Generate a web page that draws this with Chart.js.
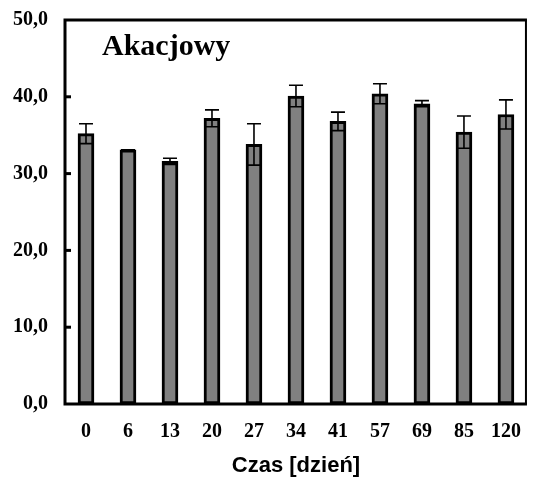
<!DOCTYPE html>
<html>
<head>
<meta charset="utf-8">
<script src="https://cdn.jsdelivr.net/npm/chart.js"></script>
<style>
body{margin:0;background:#fff}
</style>
</head>
<body>
<canvas id="myChart" width="537" height="484"></canvas>
<script>
// dane
var dni = ['0','6','13','20','27','34','41','57','69','85','120'];
var srednia = [35.2,33.1,31.6,37.2,33.8,40.1,36.8,40.4,39.1,35.4,37.7];
var odchylenie = [1.3,0,0.4,1.1,2.7,1.4,1.2,1.3,0.4,2.1,1.9];
var tytul = 'Akacjowy';

var errorBars = {
	id: 'errorBars',
	afterDatasetsDraw: function(chart) {
		var ctx = chart.ctx;
		var y = chart.scales.y;
		var meta = chart.getDatasetMeta(0);
		ctx.save();
		ctx.strokeStyle = '#000';
		ctx.lineWidth = 1.6;
		for (var i = 0; i < meta.data.length; i++) {
			var x = meta.data[i].x;
			var top = y.getPixelForValue(srednia[i] + odchylenie[i]);
			var bot = y.getPixelForValue(srednia[i] - odchylenie[i]);
			ctx.beginPath();
			ctx.moveTo(x, top); ctx.lineTo(x, bot);
			ctx.moveTo(x - 7, top); ctx.lineTo(x + 7, top);
			ctx.moveTo(x - 7, bot); ctx.lineTo(x + 7, bot);
			ctx.stroke();
		}
		// ramka
		var a = chart.chartArea;
		ctx.lineWidth = 3;
		ctx.beginPath();
		ctx.moveTo(a.right, a.top); ctx.lineTo(a.left, a.top);
		ctx.lineTo(a.left, a.bottom); ctx.lineTo(a.right, a.bottom);
		ctx.stroke();
		ctx.lineWidth = 2;
		ctx.beginPath();
		ctx.moveTo(a.right - 1, a.top); ctx.lineTo(a.right - 1, a.bottom);
		ctx.stroke();
		// kreski podziałki do środka
		ctx.lineWidth = 3;
		[10, 20, 30, 40].forEach(function(v) {
			var py = y.getPixelForValue(v);
			ctx.beginPath();
			ctx.moveTo(a.left, py); ctx.lineTo(a.left + 6, py);
			ctx.stroke();
		});
		// tytuł
		ctx.fillStyle = '#000';
		ctx.font = 'bold 30px "Liberation Serif"';
		ctx.textAlign = 'left';
		ctx.textBaseline = 'alphabetic';
		ctx.fillText(tytul, 102, 55);
		ctx.restore();
	}
};

var ctx = document.getElementById('myChart');
var chart = new Chart(ctx, {
	type: 'bar',
	data: {
		labels: dni,
		datasets: [{
			data: srednia,
			backgroundColor: '#808080',
			borderColor: '#000',
			borderWidth: 3,
			borderSkipped: false,
			barThickness: 16
		}]
	},
	options: {
		responsive: false,
		animation: false,
		layout: { padding: { top: 20, right: 1, left: 0, bottom: 0 } },
		plugins: { legend: { display: false }, tooltip: { enabled: false } },
		scales: {
			x: {
				grid: { display: false, drawTicks: false },
				border: { display: false },
				ticks: { color: '#000', padding: 16, font: { family: 'Liberation Serif', size: 20, weight: 'bold' } },
				title: { display: true, text: 'Czas [dzień]', color: '#000', padding: { top: 10, bottom: 5 }, font: { family: 'Liberation Sans', size: 22, weight: 'bold' } },
				afterFit: function(s) { s.height = 80; }
			},
			y: {
				min: 0, max: 50,
				grid: { display: false, drawTicks: false },
				border: { display: false },
				ticks: {
					stepSize: 10, color: '#000', padding: 17,
					font: { family: 'Liberation Serif', size: 20, weight: 'bold' },
					callback: function(v) { return v.toFixed(1).replace('.', ','); }
				},
				afterFit: function(s) { s.width = 65; s.paddingTop = 0; s.paddingBottom = 0; }
			}
		}
	},
	plugins: [errorBars]
});
</script>
</body>
</html>
